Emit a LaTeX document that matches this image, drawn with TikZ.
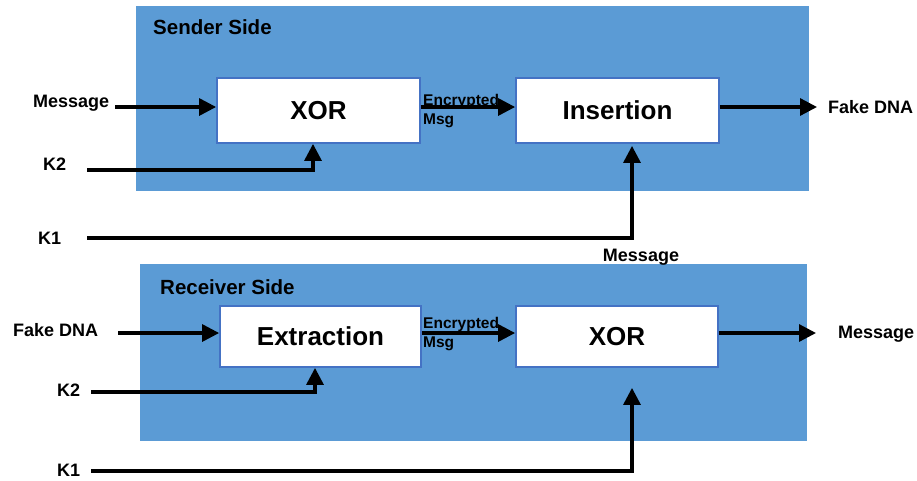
\documentclass[tikz,border=0pt]{standalone}
\usepackage{fontspec}
\setmainfont{Liberation Sans}
\usetikzlibrary{arrows.meta,calc}
\definecolor{panel}{HTML}{5B9BD5}
\definecolor{boxline}{HTML}{4472C4}
\begin{document}
\begin{tikzpicture}[x=1pt,y=-1pt,
  panelbox/.style={fill=panel, draw=none, inner sep=0, anchor=north west},
  block/.style={draw=boxline, line width=1.8pt, fill=white, inner sep=0,
    font=\fontsize{26}{30}\selectfont\bfseries},
  lbl/.style={font=\fontsize{18}{21}\selectfont\bfseries, inner sep=0, anchor=west},
  hdr/.style={font=\fontsize{20.5}{24}\selectfont\bfseries, inner sep=0, anchor=west},
  smalllbl/.style={font=\fontsize{15.5}{19}\selectfont\bfseries, inner sep=0, align=left, anchor=north west},
  arr/.style={line width=3.2pt, -{Triangle[length=17pt,width=17pt]}},
]
\useasboundingbox (0,0) rectangle (917,480);
\fill[white] (0,0) rectangle (917,480);

% panels
\node[panelbox, minimum width=673pt, minimum height=185pt] (sender) at (136,6) {};
\node[panelbox, minimum width=667pt, minimum height=177pt] (receiver) at (140,264) {};
\node[hdr] (sendert) at (153,27) {Sender Side};
\node[hdr] (receivert) at (160,287) {Receiver Side};

% blocks
\node[block, minimum width=203pt, minimum height=65pt] (xor1) at (318.5,110.5) {XOR};
\node[block, minimum width=203pt, minimum height=65pt] (ins) at (617.5,110.5) {Insertion};
\node[block, minimum width=201pt, minimum height=61pt] (ext) at (320.5,336.5) {Extraction};
\node[block, minimum width=202pt, minimum height=61pt] (xor2) at (617,336.5) {XOR};

% labels
\node[lbl] (msgin) at (33,103) {Message};
\node[lbl] (k2a) at (43,164) {K2};
\node[lbl] (k1a) at (38,238) {K1};
\node[lbl] (fakeout) at (828,107) {Fake DNA};
\node[lbl, anchor=center] (msgmid) at (641,257) {Message};
\node[lbl] (fakein) at (13,330) {Fake DNA};
\node[lbl] (k2b) at (57,390) {K2};
\node[lbl] (k1b) at (57,470) {K1};
\node[lbl] (msgout) at (838,334) {Message};
\node[smalllbl] (enc1) at (423,94) {Encrypted\\Msg};
\node[smalllbl] (enc2) at (423,317) {Encrypted\\Msg};

% free ends
\coordinate (msgs) at (115,107);
\coordinate (k2as) at (87,170);
\coordinate (k1as) at (87,238);
\coordinate (fakee) at (817,107);
\coordinate (fakes) at (118,333);
\coordinate (k2bs) at (91,392);
\coordinate (k1bs) at (91,471);
\coordinate (msge) at (816,333);

% sender connectors
\draw[arr] (msgs) -- (msgs -| xor1.west);
\draw[arr] ([yshift=3.5pt]xor1.east) -- ([yshift=3.5pt]ins.west);
\draw[arr] ([yshift=3.5pt]ins.east) -- (fakee);
\draw[arr] (k2as) -| ([xshift=-5.5pt]xor1.south);
\draw[arr] (k1as) -| ([xshift=14.5pt,yshift=-2pt]ins.south);

% receiver connectors
\draw[arr] (fakes) -- (fakes -| ext.west);
\draw[arr] ([yshift=3.5pt]ext.east) -- ([yshift=3.5pt]xor2.west);
\draw[arr] ([yshift=3.5pt]xor2.east) -- (msge);
\draw[arr] (k2bs) -| ([xshift=-5.5pt]ext.south);
\draw[arr, shorten >=20pt] (k1bs) -| ([xshift=15pt]xor2.south);
\end{tikzpicture}
\end{document}
